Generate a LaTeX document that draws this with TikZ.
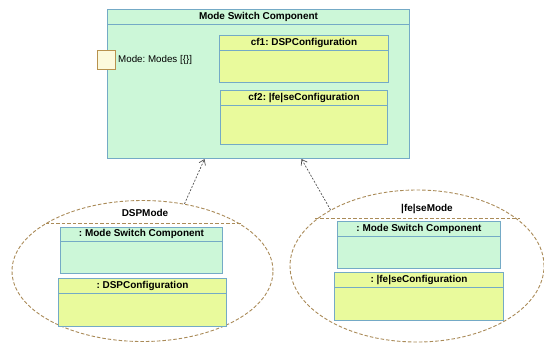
\documentclass[tikz,border=0pt]{standalone}
\usepackage{fontspec}
\setmainfont{Liberation Sans}
\frenchspacing
\usetikzlibrary{arrows.meta,shapes.geometric}
\definecolor{boxgreen}{HTML}{CCF7D8}
\definecolor{boxyellow}{HTML}{E9FA9C}
\definecolor{boxline}{HTML}{74AAC6}
\definecolor{ellline}{HTML}{AA8B58}
\definecolor{portfill}{HTML}{FCFADC}
\definecolor{portline}{HTML}{B8924E}
\definecolor{deparrow}{HTML}{505050}
\newcommand{\UMLBox}[8]{%
  % #1 name, #2 x, #3 y, #4 w, #5 h, #6 header h, #7 fill, #8 title
  \node[umlbox, fill=#7, minimum width=#4bp, minimum height=#5bp, anchor=north west] (#1) at (#2,#3) {};
  \draw[boxline, line width=1pt] ([yshift=-#6bp]#1.north west) -- ([yshift=-#6bp]#1.north east);
  \node[boxtitle] (#1-t) at ([yshift=-#6bp/2]#1.north) {#8};
}
\begin{document}
\begin{tikzpicture}[x=1bp,y=-1bp,
  umlbox/.style={draw=boxline, line width=1pt, inner sep=0pt, rectangle},
  boxtitle/.style={font=\fontsize{10}{12}\selectfont\bfseries, inner sep=0pt},
  modeell/.style={ellipse, draw=ellline, line width=0.9pt, dash pattern=on 3.5pt off 2pt, inner sep=0pt},
  modeline/.style={draw=ellline, line width=0.9pt, dash pattern=on 3.5pt off 2pt},
  modetitle/.style={font=\fontsize{10}{12}\selectfont\bfseries, inner sep=0pt},
  dep/.style={draw=deparrow, line width=0.7pt, dash pattern=on 2pt off 1.5pt, -{Straight Barb[length=5pt,width=7pt]}}
]
\useasboundingbox (0,0) rectangle (544,347);
\fill[white] (0,0) rectangle (544,347);

% main component
\UMLBox{main}{107}{9}{302}{149}{15}{boxgreen}{Mode Switch Component}
\UMLBox{cf1}{219}{35}{169}{47}{15}{boxyellow}{cf1: DSPConfiguration}
\UMLBox{cf2}{220}{90}{167}{54}{15}{boxyellow}{cf2: |fe|seConfiguration}
\node[draw=portline, fill=portfill, line width=0.9pt, minimum width=18bp, minimum height=19bp, inner sep=0pt, anchor=north west] (port) at (97,50) {};
\node[font=\fontsize{9.8}{11}\selectfont, anchor=west, inner sep=0pt] (portlbl) at (118,60) {Mode: Modes [\{\}]};

% DSP mode
\node[modeell, minimum width=261bp, minimum height=141bp] (e1) at (142.5,271) {};
\node[modetitle] (e1t) at (145,213) {DSPMode};
\draw[modeline] ([shift={(-97,-48)}]e1.center) -- ([shift={(100,-48)}]e1.center);
\UMLBox{m1}{60}{227}{162}{46}{14}{boxgreen}{: Mode Switch Component}
\UMLBox{d1}{58}{278}{168}{48}{15}{boxyellow}{: DSPConfiguration}

% false mode
\node[modeell, minimum width=254bp, minimum height=152bp] (e2) at (417,266) {};
\node[modetitle] (e2t) at (427,209) {|fe|seMode};
\draw[modeline] ([shift={(-102,-48)}]e2.center) -- ([shift={(103,-48)}]e2.center);
\UMLBox{m2}{337}{221}{163}{47}{15}{boxgreen}{: Mode Switch Component}
\UMLBox{d2}{334}{272}{169}{48}{15}{boxyellow}{: |fe|seConfiguration}

% dependencies
\draw[dep] (e1.58) -- ([xshift=-54bp]main.south);
\draw[dep] (e2.147) -- ([xshift=43bp]main.south);
\end{tikzpicture}
\end{document}
